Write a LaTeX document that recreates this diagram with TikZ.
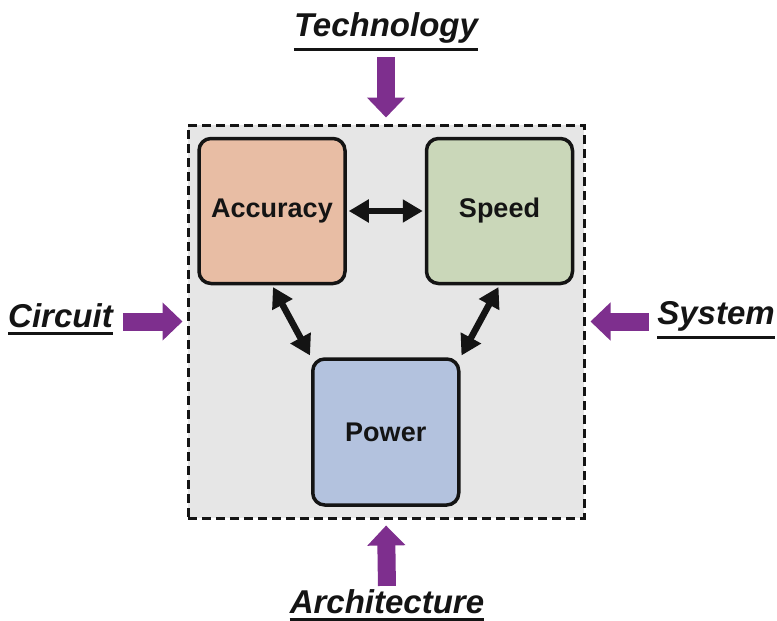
\documentclass[tikz,border=0pt]{standalone}
\usepackage{fontspec}
\setmainfont{Liberation Sans}
\usetikzlibrary{positioning,arrows.meta}

\definecolor{accfill}{HTML}{E8BDA4}
\definecolor{spdfill}{HTML}{CAD7B9}
\definecolor{pwrfill}{HTML}{B3C2DE}
\definecolor{framefill}{HTML}{E6E6E6}
\definecolor{feedpurple}{HTML}{7E2F8E}
\definecolor{inkblack}{HTML}{141414}

\begin{document}
\begin{tikzpicture}[x=1pt, y=-1pt, draw=inkblack, text=inkblack]
    \tikzstyle{metric}=[draw, line width=3.5pt, rounded corners=12pt, minimum width=146pt, minimum height=145pt, font=\fontsize{27}{32}\selectfont\bfseries];
    \tikzstyle{level}=[inner sep=0pt, font=\fontsize{33}{38}\selectfont\bfseries\itshape];
    \tikzstyle{uline}=[line width=3pt];
    \tikzstyle{link}=[line width=6.5pt, {Triangle[length=20pt, width=22pt]}-{Triangle[length=20pt, width=22pt]}, shorten <=2pt, shorten >=2pt];
    \tikzstyle{feed}=[draw=feedpurple, line width=18pt, -{Triangle[length=20pt, width=37pt]}];

    \useasboundingbox (0,0) rectangle (777,621);

    \node (frame) [draw, dash pattern=on 9pt off 5pt, line width=3pt, fill=framefill, inner sep=0pt, minimum width=396pt, minimum height=393pt] at (386,321.5) {};

    \node (acc) [metric, fill=accfill] at (272,211) {Accuracy};
    \node (spd) [metric, fill=spdfill, right=78pt of acc] {Speed};
    \path (acc.south) -- (spd.south) coordinate[midway] (mid);
    \node (pwr) [metric, fill=pwrfill, minimum height=146pt, below=72pt of mid] {Power};

    \path (acc) edge[link] (spd);
    \path (acc.south) edge[link] (pwr.north west);
    \path (spd.south) edge[link] (pwr.north east);

    \node (tech) [level, anchor=base] at (386,36) {Technology};
    \node (circ) [level, anchor=base] at (60.5,327) {Circuit};
    \node (sys)  [level, anchor=base] at (716,324) {System};
    \node (arch) [level, anchor=base] at (387,613) {Architecture};

    \draw[uline] ([yshift=-6pt]tech.south west) -- ([yshift=-6pt]tech.south east);
    \draw[uline] ([yshift=-6pt]circ.south west) -- ([yshift=-6pt]circ.south east);
    \draw[uline] ([yshift=-6pt]sys.south west) -- ([yshift=-6pt]sys.south east);
    \draw[uline] ([yshift=-6pt]arch.south west) -- ([yshift=-6pt]arch.south east);

    \draw[feed, shorten <=14pt, shorten >=6pt] (tech.south) -- (frame.north);
    \draw[feed, shorten <=10pt, shorten >=4pt] (circ.east |- frame.west) -- (frame.west);
    \draw[feed, shorten <=8pt, shorten >=5pt] (sys.west |- frame.east) -- (frame.east);
    \draw[feed, shorten <=3pt, shorten >=6pt] (arch.north) -- (frame.south);
\end{tikzpicture}
\end{document}
